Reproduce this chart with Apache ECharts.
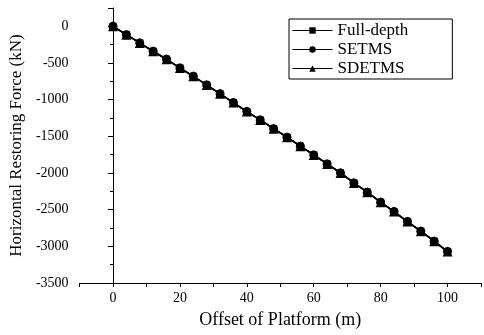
<!DOCTYPE html>
<html>
<head>
<meta charset="utf-8">
<script src="https://cdn.jsdelivr.net/npm/echarts@6/dist/echarts.min.js"></script>
<style>
  html, body { margin: 0; padding: 0; background: #fff; }
  #main { width: 484px; height: 335px; }
</style>
</head>
<body>
<div id="main"></div>
<script>
var offset = [0, 4, 8, 12, 16, 20, 24, 28, 32, 36, 40, 44, 48, 52, 56, 60, 64, 68, 72, 76, 80, 84, 88, 92, 96, 100];
var fullDepth = [0, -114, -226, -340, -449, -567, -681, -799, -921, -1040, -1163, -1277, -1395, -1512, -1635, -1753, -1876, -1999, -2135, -2262, -2398, -2526, -2662, -2793, -2929, -3071];
var setms = [0, -114, -226, -340, -449, -567, -681, -799, -921, -1040, -1163, -1277, -1395, -1512, -1635, -1753, -1876, -1999, -2135, -2262, -2398, -2526, -2662, -2793, -2929, -3071];
var sdetms = [0, -114, -226, -340, -449, -567, -681, -799, -921, -1040, -1163, -1277, -1395, -1512, -1635, -1753, -1876, -1999, -2135, -2262, -2398, -2526, -2662, -2793, -2929, -3071];
var names = ['Full-depth', 'SETMS', 'SDETMS'];

function pairs(ys) {
    var out = [];
    for (var i = 0; i < offset.length; i++) out.push([offset[i], ys[i]]);
    return out;
}

var font = 'Liberation Serif';
var chart = echarts.init(document.getElementById('main'));

function makeSeries(name, symbol, size, ys) {
    return {
        name: name,
        type: 'line',
        symbol: symbol,
        symbolSize: size,
        lineStyle: {color: '#000', width: 1.5},
        itemStyle: {color: '#000'},
        animation: false,
        data: pairs(ys)
    };
}

var options = {
    backgroundColor: '#fff',
    textStyle: {fontFamily: font, color: '#000'},
    grid: {left: 79, right: 1, top: 8, bottom: 52},
    legend: {
        data: names,
        orient: 'vertical',
        left: 289,
        top: 19,
        itemWidth: 40,
        itemHeight: 8,
        itemGap: 2,
        padding: [3, 44, 2, 3],
        borderColor: '#000',
        borderWidth: 1,
        borderRadius: 0,
        lineStyle: {width: 1},
        textStyle: {fontFamily: font, fontSize: 17, color: '#000'}
    },
    xAxis: {
        type: 'value',
        min: -10,
        max: 110,
        interval: 10,
        name: 'Offset of Platform (m)',
        nameLocation: 'middle',
        nameGap: 28,
        nameTextStyle: {fontFamily: font, fontSize: 18, color: '#000'},
        axisLine: {show: true, onZero: false, lineStyle: {color: '#000', width: 1}},
        axisTick: {show: true, length: 4, lineStyle: {color: '#000'}},
        splitLine: {show: false},
        axisLabel: {
            fontFamily: font, fontSize: 14, color: '#000', margin: 8,
            formatter: function (v) {
                return (v % 20 === 0 && v >= 0 && v <= 100) ? String(v) : '';
            }
        }
    },
    yAxis: {
        type: 'value',
        min: -3500,
        max: 250,
        interval: 500,
        name: 'Horizontal Restoring Force (kN)',
        nameLocation: 'middle',
        nameGap: 51,
        nameTextStyle: {fontFamily: font, fontSize: 17, color: '#000'},
        axisLine: {show: true, lineStyle: {color: '#000', width: 1}},
        axisTick: {show: true, length: 5, lineStyle: {color: '#000'}},
        minorTick: {show: true, splitNumber: 2, length: 3, lineStyle: {color: '#000'}},
        splitLine: {show: false},
        axisLabel: {
            fontFamily: font, fontSize: 14, color: '#000', margin: 11,
            showMaxLabel: false,
            formatter: function (v) {
                return v % 500 === 0 ? String(v) : '';
            }
        }
    },
    series: [
        makeSeries(names[0], 'rect', 7, fullDepth),
        makeSeries(names[1], 'circle', 9, setms),
        makeSeries(names[2], 'triangle', 10, sdetms)
    ]
};

chart.setOption(options);
</script>
</body>
</html>
